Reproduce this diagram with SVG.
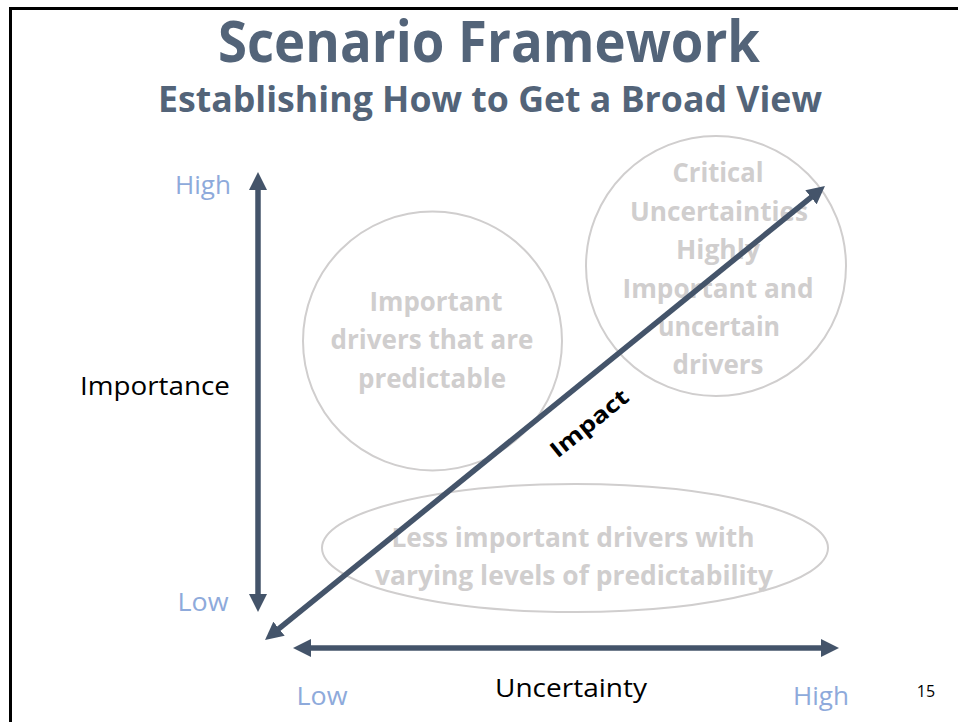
<svg xmlns="http://www.w3.org/2000/svg" width="958" height="722" viewBox="0 0 958 722">
<defs>
<style>
.title{font-family:"Open Sans","Liberation Sans",sans-serif;font-weight:bold;fill:#536479;text-anchor:middle}
.ghost{font-family:"Open Sans","Liberation Sans",sans-serif;font-weight:bold;font-size:26px;fill:#D0CECE;text-anchor:middle}
.blue{font-family:"Open Sans","Liberation Sans",sans-serif;font-size:26px;fill:#8EAADB;text-anchor:middle}
.axis{font-family:"Open Sans","Liberation Sans",sans-serif;font-size:26px;fill:#000;text-anchor:middle}
.shape{fill:none;stroke:#D0CECE;stroke-width:2}
.arrow{fill:none;stroke:#44546A;stroke-width:5.5;marker-start:url(#ah);marker-end:url(#ah)}
</style>
<marker id="ah" markerUnits="userSpaceOnUse" viewBox="0 0 18 18" markerWidth="18" markerHeight="18" refX="8" refY="9" orient="auto-start-reverse">
<path d="M0,0 L18,9 L0,18 z" fill="#44546A"/>
</marker>
</defs>
<rect width="958" height="722" fill="#fff"/>
<g id="border" stroke="#000" stroke-width="3" fill="none">
<path d="M10.5,722 V8.5 H958"/>
</g>
<g id="heading">
<text class="title" x="489" y="62" font-size="58" textLength="542" lengthAdjust="spacingAndGlyphs">Scenario Framework</text>
<text class="title" x="490" y="112" font-size="36" textLength="664" lengthAdjust="spacingAndGlyphs">Establishing How to Get a Broad View</text>
</g>
<g id="node-predictable">
<circle class="shape" cx="432.5" cy="341" r="129.5"/>
<text class="ghost" x="436" y="311" textLength="133" lengthAdjust="spacingAndGlyphs">Important</text>
<text class="ghost" x="432" y="349" textLength="203" lengthAdjust="spacingAndGlyphs">drivers that are</text>
<text class="ghost" x="432" y="388" textLength="148" lengthAdjust="spacingAndGlyphs">predictable</text>
</g>
<g id="node-critical">
<circle class="shape" cx="716" cy="266" r="130"/>
<text class="ghost" x="718" y="182" textLength="91" lengthAdjust="spacingAndGlyphs">Critical</text>
<text class="ghost" x="719" y="221" textLength="178" lengthAdjust="spacingAndGlyphs">Uncertainties</text>
<text class="ghost" x="718" y="259" textLength="84" lengthAdjust="spacingAndGlyphs">Highly</text>
<text class="ghost" x="718" y="298" textLength="191" lengthAdjust="spacingAndGlyphs">Important and</text>
<text class="ghost" x="719" y="336" textLength="122" lengthAdjust="spacingAndGlyphs">uncertain</text>
<text class="ghost" x="718" y="374" textLength="91" lengthAdjust="spacingAndGlyphs">drivers</text>
</g>
<g id="node-less-important">
<ellipse class="shape" cx="575" cy="548" rx="253" ry="64"/>
<text class="ghost" x="573" y="547" textLength="363" lengthAdjust="spacingAndGlyphs">Less important drivers with</text>
<text class="ghost" x="574" y="585" textLength="398" lengthAdjust="spacingAndGlyphs">varying levels of predictability</text>
</g>
<g id="connectors">
<path class="arrow" d="M258,182 V602"/>
<path class="arrow" d="M303,648 H829"/>
<path class="arrow" d="M272.8,633.7 L817.2,192.3"/>
</g>
<g id="labels">
<text class="blue" x="203" y="194" textLength="56" lengthAdjust="spacingAndGlyphs">High</text>
<text class="blue" x="203" y="611" textLength="51" lengthAdjust="spacingAndGlyphs">Low</text>
<text class="axis" x="155" y="395" textLength="150" lengthAdjust="spacingAndGlyphs">Importance</text>
<text class="blue" x="322" y="705" textLength="51" lengthAdjust="spacingAndGlyphs">Low</text>
<text class="axis" x="571" y="697" textLength="152" lengthAdjust="spacingAndGlyphs">Uncertainty</text>
<text class="blue" x="821" y="705" textLength="56" lengthAdjust="spacingAndGlyphs">High</text>
<text x="926" y="697" font-family="'Open Sans','Liberation Sans',sans-serif" font-size="16" text-anchor="middle" fill="#000">15</text>
<text transform="translate(589,423) rotate(-39)" x="0" y="8" font-family="'Open Sans','Liberation Sans',sans-serif" font-size="22" font-weight="bold" text-anchor="middle" fill="#000" textLength="94" lengthAdjust="spacingAndGlyphs">Impact</text>
</g>
</svg>
